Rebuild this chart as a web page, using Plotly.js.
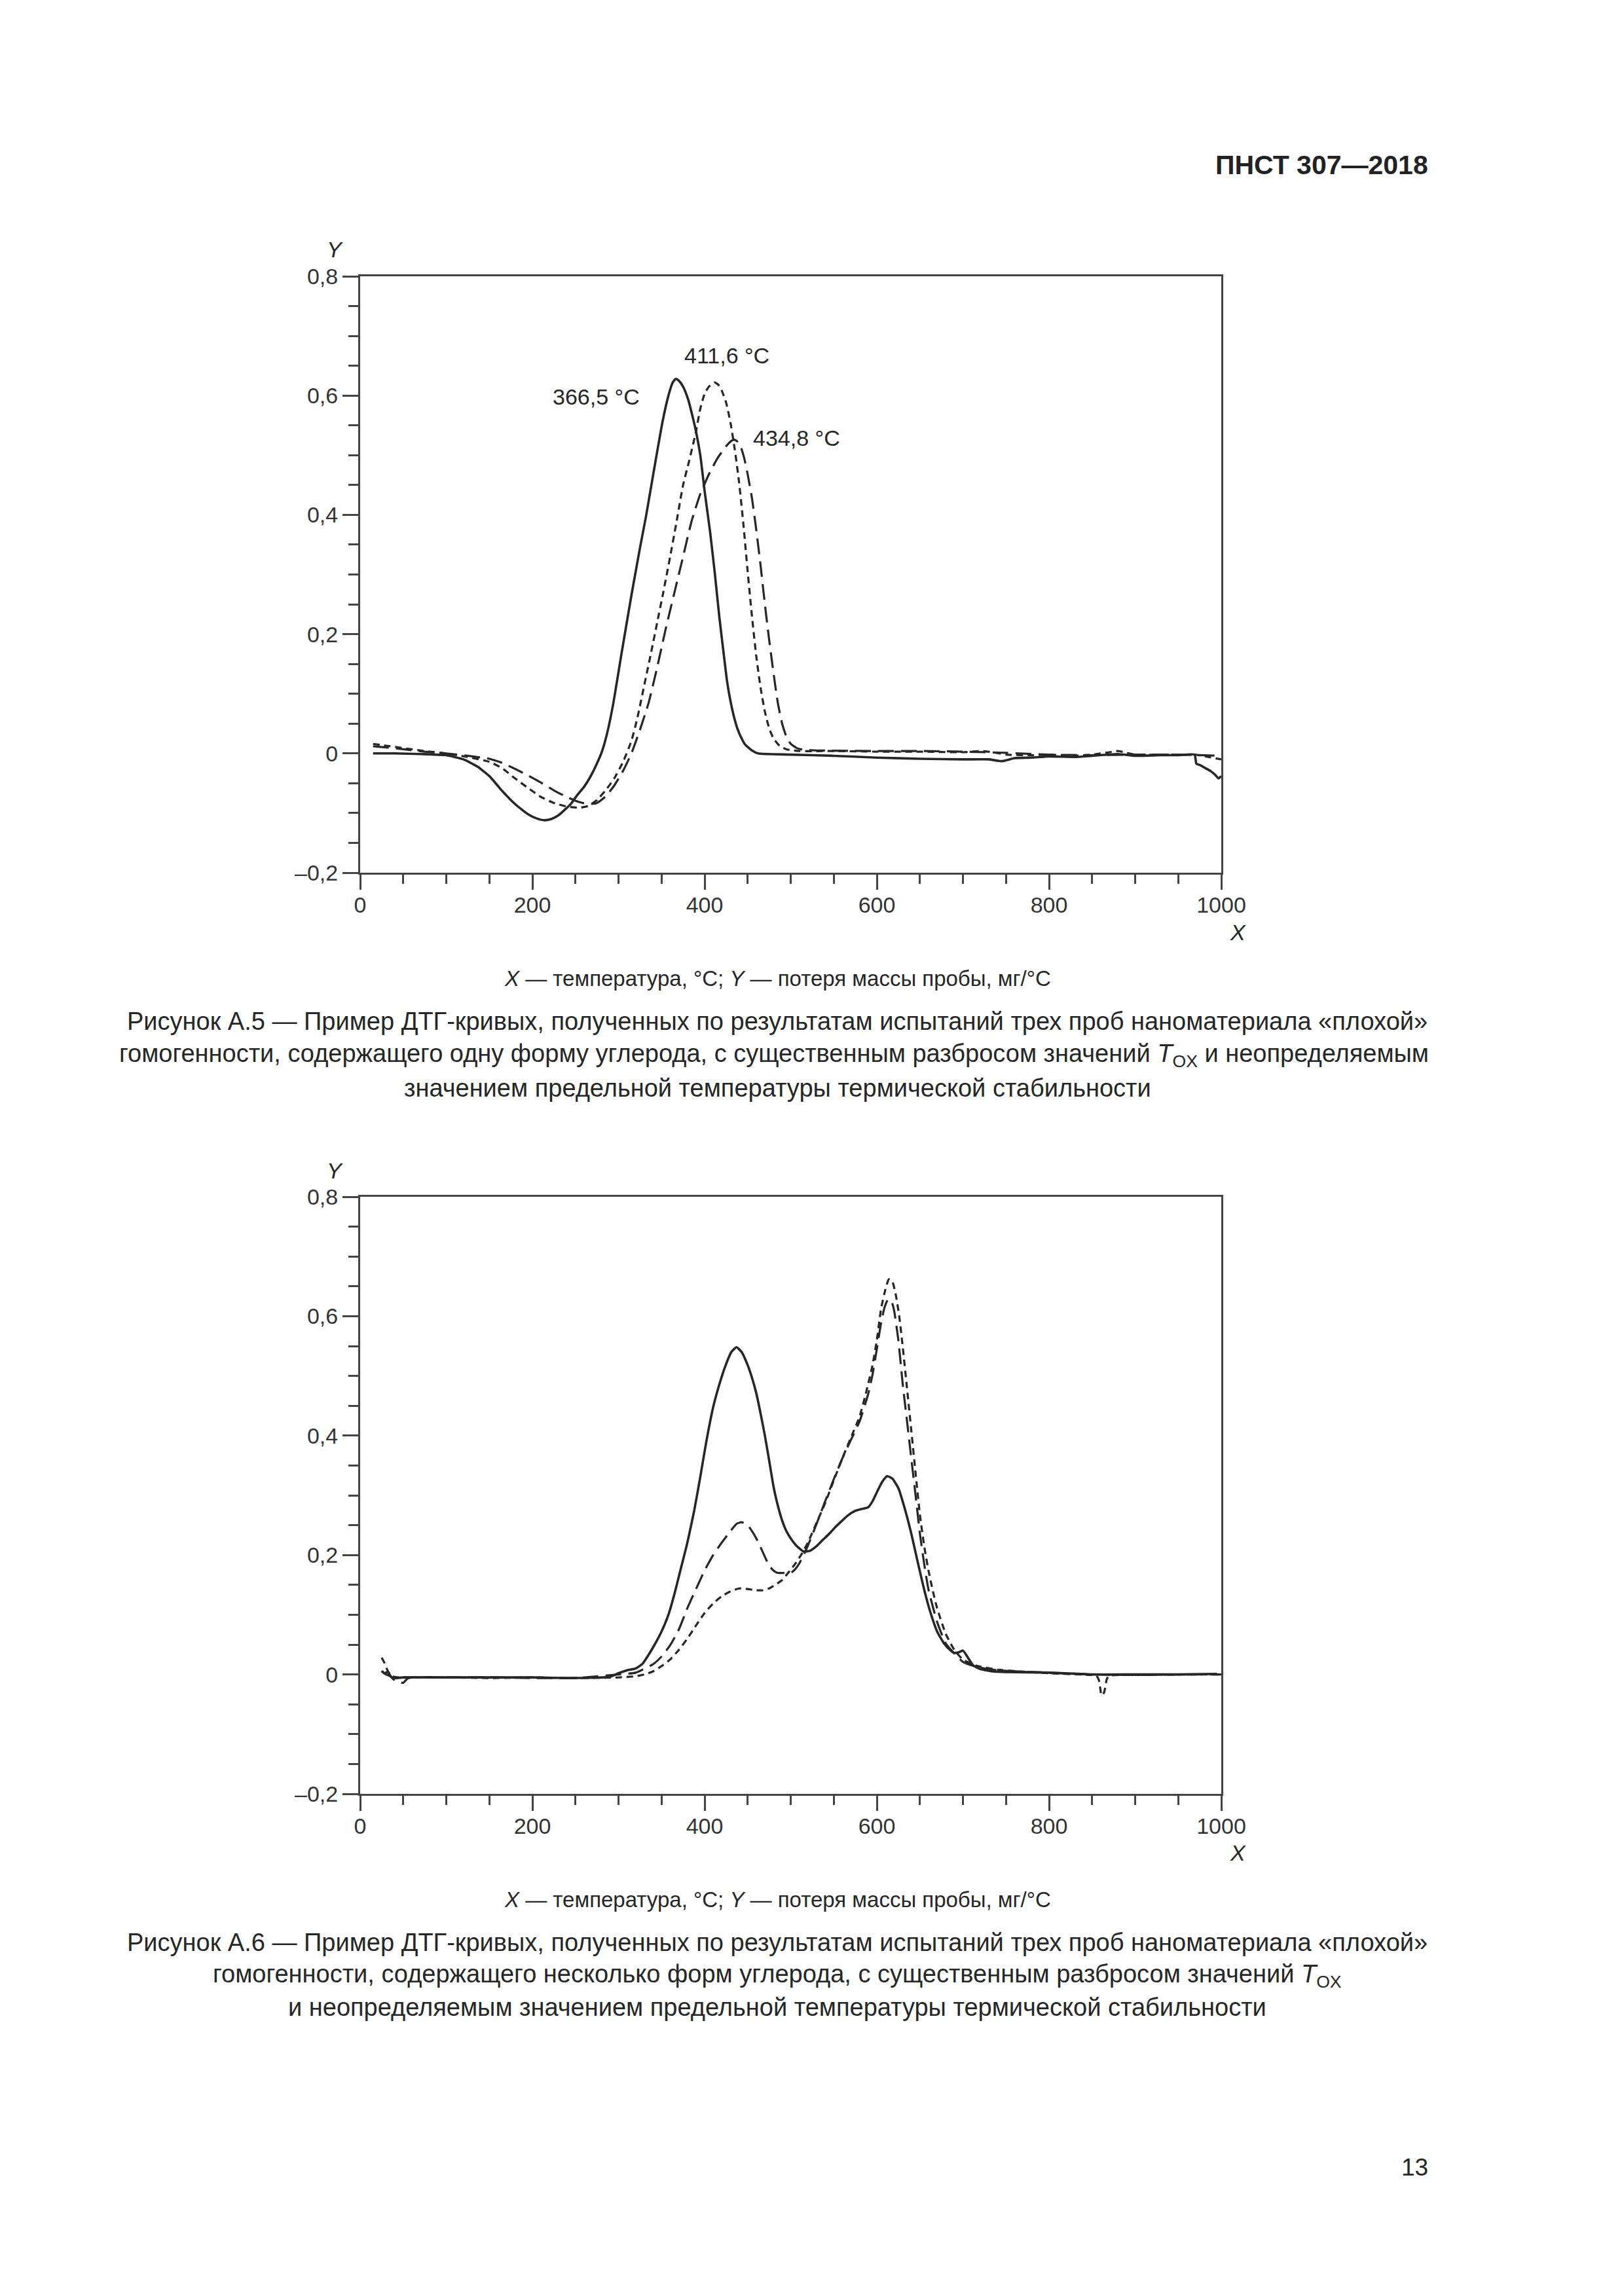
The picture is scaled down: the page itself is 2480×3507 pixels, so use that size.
<!DOCTYPE html>
<html>
<head>
<meta charset="utf-8">
<script src="https://cdn.plot.ly/plotly-3.0.1.min.js"></script>
<style>html,body{margin:0;padding:0;background:#fff;}#chart{width:2480px;height:3507px;}</style>
</head>
<body>
<div id="chart"></div>
<script>
// ---------- DATA ----------
// Figure A.5
const a5SolidX = [15,40,70,100,120,136,150,165,180,195,205,214,222,230,238,245,252,260,267,274,281,287,294,303,315,325,332,340,351,358,363,366.5,370,375,381,386,390,395,400,406.5,412,417,422.5,426,430,434,438,443,447,455,462,500,550,600,650,700,730,745,760,780,800,830,850,880,900,930,950,969,971,976,982,988,993,997,1000];
const a5SolidY = [0,0,-0.001,-0.003,-0.01,-0.022,-0.038,-0.063,-0.085,-0.102,-0.109,-0.112,-0.11,-0.104,-0.094,-0.084,-0.07,-0.056,-0.04,-0.02,0.004,0.035,0.084,0.163,0.265,0.345,0.398,0.465,0.555,0.6,0.622,0.628,0.625,0.615,0.593,0.565,0.54,0.5,0.44,0.37,0.3,0.23,0.163,0.122,0.088,0.062,0.042,0.025,0.015,0.005,0,-0.002,-0.004,-0.007,-0.009,-0.01,-0.01,-0.013,-0.008,-0.007,-0.005,-0.006,-0.004,-0.001,-0.004,-0.003,-0.003,-0.002,-0.017,-0.02,-0.025,-0.03,-0.036,-0.042,-0.038];

const a5ShortX = [15,30,50,75,100,125,150,165,180,195,210,225,240,255,265,275,285,295,305,315,322,330,338,345,352,360,367,375,382,390,395,400,405,411.6,416,420,425,430,435,440,445,450,455,460,465,470,475,480,487,495,510,550,600,650,700,720,735,750,780,800,830,850,870,880,890,900,930,960,970,985,1000];
const a5ShortY = [0.016,0.013,0.009,0.004,0,-0.006,-0.014,-0.025,-0.042,-0.058,-0.073,-0.083,-0.089,-0.091,-0.088,-0.078,-0.062,-0.042,-0.015,0.021,0.06,0.115,0.17,0.22,0.27,0.33,0.385,0.45,0.49,0.54,0.578,0.603,0.615,0.622,0.618,0.608,0.588,0.555,0.51,0.455,0.385,0.305,0.23,0.163,0.11,0.07,0.042,0.025,0.013,0.007,0.004,0.004,0.003,0.003,0.002,0.004,0.002,-0.002,-0.003,-0.002,-0.004,-0.002,0.002,0.004,0.001,-0.002,-0.002,-0.002,-0.002,-0.006,-0.01];

const a5LongX = [15,30,50,75,100,125,150,165,180,195,210,225,240,253,265,275,285,295,305,315,325,335,345,355,365,375,385,395,405,415,425,431,434.8,438,442,446,450,455,460,465,470,475,480,485,490,495,500,507,515,530,600,650,700,750,800,850,900,950,1000];
const a5LongY = [0.012,0.01,0.007,0.003,0,-0.004,-0.009,-0.016,-0.026,-0.037,-0.049,-0.062,-0.073,-0.081,-0.085,-0.083,-0.072,-0.054,-0.03,0,0.04,0.085,0.145,0.21,0.27,0.33,0.39,0.435,0.468,0.495,0.515,0.524,0.526,0.523,0.514,0.495,0.468,0.428,0.375,0.315,0.25,0.19,0.135,0.085,0.05,0.028,0.016,0.009,0.006,0.005,0.004,0.004,0.003,0.001,-0.002,-0.003,-0.002,-0.002,-0.004];

const a5PeakText = ['366,5 °C','411,6 °C','434,8 °C'];
const a5PeakLabelX = [274,426,507];
const a5PeakLabelY = [0.598,0.667,0.529];

// Figure A.6
const a6SolidX = [25,28,32,36,40,50,100,150,200,250,290,300,310,320,328,335,342,350,358,365,372,380,388,395,402,410,418,425,431,437,443,450,455,460,465,470,475,480,485,490,495,500,507,515,522,530,537,545,552,560,567,575,582,590,595,600,606,612,618,625,632,640,648,655,662,670,678,685,690,695,700,705,712,720,735,750,800,850,900,950,995];
const a6SolidY = [0.006,0.002,0.004,-0.004,-0.006,-0.005,-0.005,-0.005,-0.005,-0.006,-0.004,0.002,0.007,0.01,0.018,0.033,0.05,0.072,0.1,0.135,0.175,0.221,0.275,0.331,0.39,0.448,0.49,0.52,0.54,0.548,0.54,0.518,0.497,0.471,0.437,0.4,0.358,0.315,0.283,0.258,0.24,0.228,0.215,0.206,0.207,0.215,0.225,0.236,0.247,0.258,0.267,0.274,0.277,0.28,0.29,0.305,0.322,0.332,0.328,0.312,0.28,0.236,0.185,0.142,0.105,0.072,0.052,0.041,0.036,0.037,0.04,0.03,0.015,0.009,0.005,0.004,0.003,0,0,0,0.001];

const a6LongX = [25,30,35,40,45,50,55,60,100,150,200,250,300,320,340,350,360,370,380,390,400,410,420,430,437,443,450,455,460,465,470,475,480,485,490,500,505,510,515,520,530,540,550,560,570,580,590,595,600,605,609,613,617,620,625,630,635,640,645,650,655,660,670,680,690,700,715,740,800,850,900,950,1000];
const a6LongY = [0.005,0,-0.003,-0.01,-0.013,-0.014,-0.007,-0.005,-0.005,-0.005,-0.006,-0.006,0,0.003,0.017,0.03,0.049,0.075,0.111,0.143,0.174,0.2,0.221,0.24,0.252,0.255,0.25,0.24,0.228,0.213,0.197,0.182,0.174,0.17,0.17,0.17,0.176,0.186,0.2,0.216,0.252,0.29,0.327,0.362,0.393,0.424,0.47,0.502,0.545,0.589,0.615,0.628,0.625,0.61,0.56,0.487,0.425,0.362,0.3,0.236,0.185,0.142,0.088,0.052,0.035,0.021,0.013,0.007,0.003,0,-0.001,0,0];

const a6ShortX = [25,28,32,36,40,45,50,100,150,200,250,300,320,330,340,350,360,370,380,390,400,410,420,430,440,450,460,468,475,482,490,497,505,512,520,530,540,550,560,570,580,588,595,600,605,610,614,618,622,626,630,635,640,645,650,655,660,665,670,680,690,700,715,740,800,850,855,858,861,864,867,870,900,950,1000];
const a6ShortY = [0.028,0.02,0.006,-0.002,-0.004,-0.005,-0.005,-0.005,-0.006,-0.005,-0.006,-0.005,-0.003,0,0.005,0.014,0.025,0.041,0.06,0.082,0.103,0.119,0.131,0.139,0.144,0.143,0.141,0.141,0.144,0.15,0.158,0.17,0.185,0.2,0.221,0.254,0.287,0.325,0.362,0.397,0.432,0.475,0.518,0.56,0.613,0.645,0.662,0.658,0.636,0.6,0.55,0.48,0.409,0.337,0.268,0.215,0.174,0.14,0.111,0.068,0.041,0.025,0.015,0.008,0.002,-0.001,-0.002,-0.01,-0.035,-0.03,-0.008,-0.002,-0.001,0,0];

// Axis ticks
const xTickVals = [0,200,400,600,800,1000];
const xTickText = ['0','200','400','600','800','1000'];
const yTickVals = [-0.2,0,0.2,0.4,0.6,0.8];
const yTickText = ['\u20130,2','0','0,2','0,4','0,6','0,8'];

// Texts
const headerText = 'ПНСТ 307—2018';
const axisNote = '<i>X</i> — температура, °C; <i>Y</i> — потеря массы пробы, мг/°C';
const capA5 = [
  'Рисунок А.5 — Пример ДТГ-кривых, полученных по результатам испытаний трех проб наноматериала «плохой»',
  'гомогенности, содержащего одну форму углерода, с существенным разбросом значений <i>T</i><sub>OX</sub> и неопределяемым',
  'значением предельной температуры термической стабильности'
];
const capA6 = [
  'Рисунок А.6 — Пример ДТГ-кривых, полученных по результатам испытаний трех проб наноматериала «плохой»',
  'гомогенности, содержащего несколько форм углерода, с существенным разбросом значений <i>T</i><sub>OX</sub>',
  'и неопределяемым значением предельной температуры термической стабильности'
];
const pageNumber = '13';

// ---------- LAYOUT ----------
const W = 2480, H = 3507;
const fx = p => p / W;
const fy = p => 1 - p / H;
const FONT = 'Liberation Sans, Arial, sans-serif';
const INK = '#262626';
const AXC = '#444444';

function xAxis(anchor){
  return {
    domain: [fx(550), fx(1865)], anchor: anchor, range: [0, 1000],
    tickmode: 'array', tickvals: xTickVals, ticktext: xTickText,
    ticks: 'outside', ticklen: 23, tickwidth: 3, tickcolor: AXC,
    ticklabelstandoff: -6,
    minor: {tickmode: 'linear', tick0: 0, dtick: 50, ticks: 'outside', ticklen: 14, tickwidth: 3, tickcolor: AXC, showgrid: false},
    showline: true, linewidth: 3, linecolor: AXC, mirror: true,
    showgrid: false, zeroline: false, fixedrange: true,
    tickfont: {family: FONT, size: 34, color: '#333'}
  };
}
function yAxis(anchor, top, bottom){
  return {
    domain: [fy(bottom), fy(top)], anchor: anchor, range: [-0.2, 0.8],
    tickmode: 'array', tickvals: yTickVals, ticktext: yTickText,
    ticks: 'outside', ticklen: 24, tickwidth: 3, tickcolor: AXC,
    minor: {tickmode: 'linear', tick0: 0, dtick: 0.05, ticks: 'outside', ticklen: 15, tickwidth: 3, tickcolor: AXC, showgrid: false},
    showline: true, linewidth: 3, linecolor: AXC, mirror: true,
    showgrid: false, zeroline: false, fixedrange: true,
    tickfont: {family: FONT, size: 34, color: '#333'}
  };
}

const SOLID = {color: INK, width: 3.6, dash: 'solid', shape: 'spline', smoothing: 0.5};
const SHORT = {color: INK, width: 3.2, dash: '10px,7px', shape: 'spline', smoothing: 0.5};
const LONG  = {color: INK, width: 3.2, dash: '24px,11px', shape: 'spline', smoothing: 0.5};

const traces = [
  {x: a5SolidX, y: a5SolidY, xaxis: 'x', yaxis: 'y', mode: 'lines', line: SOLID, hoverinfo: 'skip'},
  {x: a5ShortX, y: a5ShortY, xaxis: 'x', yaxis: 'y', mode: 'lines', line: SHORT, hoverinfo: 'skip'},
  {x: a5LongX,  y: a5LongY,  xaxis: 'x', yaxis: 'y', mode: 'lines', line: LONG,  hoverinfo: 'skip'},
  {x: a6SolidX, y: a6SolidY, xaxis: 'x2', yaxis: 'y2', mode: 'lines', line: SOLID, hoverinfo: 'skip'},
  {x: a6LongX,  y: a6LongY,  xaxis: 'x2', yaxis: 'y2', mode: 'lines', line: LONG,  hoverinfo: 'skip'},
  {x: a6ShortX, y: a6ShortY, xaxis: 'x2', yaxis: 'y2', mode: 'lines', line: SHORT, hoverinfo: 'skip'}
];

function txt(text, x, y, size, opts){
  return Object.assign({
    text: text, x: fx(x), y: fy(y), xref: 'paper', yref: 'paper',
    xanchor: 'center', yanchor: 'middle', showarrow: false,
    font: {family: FONT, size: size, color: INK}
  }, opts || {});
}

const annotations = [
  txt(headerText, 2183, 252, 41, {xanchor: 'right', font: {family: FONT, size: 41, color: '#222', weight: 'bold'}}),
  txt('<i>Y</i>', 511, 381, 34),
  txt('<i>X</i>', 1890, 1424, 34),
  txt('<i>Y</i>', 511, 1788, 34),
  txt('<i>X</i>', 1890, 2830, 34),
  txt(axisNote, 1187, 1494, 33),
  txt(capA5[0], 1187, 1560, 38),
  txt(capA5[1], 1182, 1612, 38),
  txt(capA5[2], 1187, 1662, 38),
  txt(axisNote, 1187, 2901, 33),
  txt(capA6[0], 1187, 2967, 38),
  txt(capA6[1], 1187, 3018, 38),
  txt(capA6[2], 1187, 3066, 38),
  txt(pageNumber, 2160, 3310, 37)
];
for (let i = 0; i < a5PeakText.length; i++) {
  annotations.push({
    text: a5PeakText[i], x: a5PeakLabelX[i], y: a5PeakLabelY[i], xref: 'x', yref: 'y',
    xanchor: 'center', yanchor: 'middle', showarrow: false,
    font: {family: FONT, size: 34, color: INK}
  });
}

const layout = {
  width: W, height: H,
  margin: {l: 0, r: 0, t: 0, b: 0, pad: 0},
  paper_bgcolor: '#ffffff', plot_bgcolor: '#ffffff',
  showlegend: false,
  xaxis: xAxis('y'), yaxis: yAxis('x', 422, 1333),
  xaxis2: xAxis('y2'), yaxis2: yAxis('x2', 1828, 2740),
  annotations: annotations
};

Plotly.newPlot('chart', traces, layout, {staticPlot: true, displayModeBar: false});
</script>
</body>
</html>
